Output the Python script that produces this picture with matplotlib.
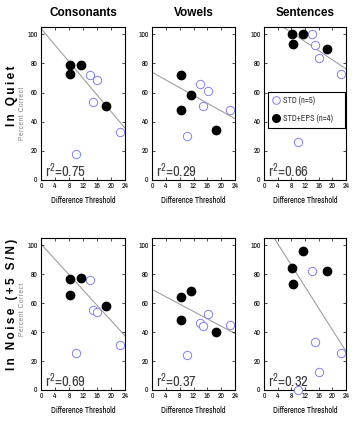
import matplotlib
matplotlib.use("Agg")
import matplotlib.pyplot as plt
from matplotlib.lines import Line2D
from matplotlib.transforms import offset_copy
import numpy as np

# ---- data ----
std_threshold = [10.0, 14.0, 14.8, 16.1, 22.5]
eps_threshold = [8.3, 8.4, 11.3, 18.5]

columns = ["Consonants", "Vowels", "Sentences"]
rows = ["In Quiet", "In Noise (+5 S/N)"]
y_label = "Percent Correct"
x_label = "Difference Threshold"

quiet_cons_std = [17.8, 72.0, 53.8, 68.6, 32.7]
quiet_cons_eps = [78.7, 73.0, 78.7, 51.0]
quiet_vow_std = [30.5, 65.7, 51.0, 61.0, 47.7]
quiet_vow_eps = [72.3, 48.2, 58.0, 34.0]
quiet_sent_std = [26.4, 100.0, 92.4, 83.9, 72.9]
quiet_sent_eps = [100.0, 93.3, 100.0, 89.6]

noise_cons_std = [25.6, 76.2, 55.4, 53.8, 31.4]
noise_cons_eps = [76.7, 65.7, 77.1, 57.9]
noise_vow_std = [24.5, 46.6, 44.1, 52.7, 45.0]
noise_vow_eps = [64.1, 48.4, 68.6, 40.0]
noise_sent_std = [0.0, 82.3, 33.3, 12.6, 25.3]
noise_sent_eps = [84.6, 72.9, 96.1, 82.3]

# regression fits (intercept, slope) and r^2 as printed
quiet_fit_intercept = [104.0, 74.0, 113.7]
quiet_fit_slope = [-2.85, -1.33, -1.56]
quiet_r2 = ["0.75", "0.29", "0.66"]
noise_fit_intercept = [100.8, 69.5, 116.0]
noise_fit_slope = [-2.64, -1.27, -3.72]
noise_r2 = ["0.69", "0.37", "0.32"]

x_ticks = [0, 4, 8, 12, 16, 20, 24]
y_ticks = [0, 20, 40, 60, 80, 100]

std_label = "STD (n=5)"
eps_label = "STD+EPS (n=4)"

# ---- drawing ----
plt.rcParams["mathtext.default"] = "regular"
W, H = 352, 426
fig = plt.figure(figsize=(W / 100, H / 100), dpi=100)
fig.patch.set_facecolor("white")

narrow = ["Archivo Narrow", "Liberation Sans", "DejaVu Sans"]
sans = ["Liberation Sans", "DejaVu Sans"]


def spaced(s, sep="\u2009"):
    return sep.join(s)


col_px = [(41, 125), (152, 235), (264, 346)]
row_px = [(27, 180), (238, 390)]

open_color = "#8080f0"
line_color = "#a0a0a0"

std_sets = [[quiet_cons_std, quiet_vow_std, quiet_sent_std],
            [noise_cons_std, noise_vow_std, noise_sent_std]]
eps_sets = [[quiet_cons_eps, quiet_vow_eps, quiet_sent_eps],
            [noise_cons_eps, noise_vow_eps, noise_sent_eps]]
intercepts = [quiet_fit_intercept, noise_fit_intercept]
slopes = [quiet_fit_slope, noise_fit_slope]
r2s = [quiet_r2, noise_r2]

MS = 6

for r in range(2):
    for c in range(3):
        x0, x1 = col_px[c]
        y0, y1 = row_px[r]
        ax = fig.add_axes([x0 / W, 1 - y1 / H, (x1 - x0) / W, (y1 - y0) / H])
        ax.set_xlim(0, 24)
        ax.set_ylim(0, 105)
        xs = np.linspace(0, 24, 50)
        ax.plot(xs, intercepts[r][c] + slopes[r][c] * xs, color=line_color, lw=0.8, zorder=1)
        ax.plot(std_threshold, std_sets[r][c], linestyle="none", marker="o", ms=MS,
                mfc="white", mec=open_color, mew=0.7, zorder=3, clip_on=False)
        ax.plot(eps_threshold, eps_sets[r][c], linestyle="none", marker="o", ms=MS,
                mfc="black", mec="black", zorder=3, clip_on=False)
        ax.set_xticks(x_ticks)
        ax.set_yticks(y_ticks)
        ax.tick_params(direction="in", length=2, width=0.5, top=True, right=True,
                       labelsize=5.5, pad=2.5)
        for lab in ax.get_xticklabels() + ax.get_yticklabels():
            lab.set_family(narrow)
        for sp in ax.spines.values():
            sp.set_linewidth(0.8)
        ax.set_xlabel(x_label, fontsize=6, family=narrow, labelpad=5)
        tr = offset_copy(ax.transAxes, fig=fig, x=3, y=2.5, units="points")
        ax.text(0.0, 0.0, "r$^{2}$=" + r2s[r][c], transform=tr,
                fontsize=10.5, family=narrow, color="#3a3a3a", ha="left", va="baseline")
        if r == 0:
            ax.set_title(columns[c], fontsize=8.5, fontweight="bold", family=sans, pad=8)
        if r == 0 and c == 2:
            handles = [Line2D([], [], linestyle="none", marker="o", ms=MS - 0.5, mfc="white",
                              mec=open_color, mew=0.7),
                       Line2D([], [], linestyle="none", marker="o", ms=MS - 0.5, mfc="black",
                              mec="black")]
            leg = ax.legend(handles, [std_label, eps_label], loc="lower left",
                            bbox_to_anchor=(0.045, 0.343, 0.945, 0.23), mode="expand",
                            fancybox=False, edgecolor="black", framealpha=1,
                            prop={"family": narrow, "size": 6}, handletextpad=0.3,
                            handlelength=1.0, borderaxespad=0, labelspacing=1.1,
                            borderpad=0.5)
            leg.get_frame().set_linewidth(0.8)
            for t in leg.get_texts():
                t.set_color("#333333")

# row labels
row_centers = [96, 304]
pc_centers = [113, 309]
for r in range(2):
    fig.text(12 / W, 1 - row_centers[r] / H, spaced(rows[r]), rotation=90, ha="center",
             va="center", fontsize=8.5, fontweight="bold", family=sans)
    fig.text(22 / W, 1 - pc_centers[r] / H, spaced(y_label, "\u200a"), rotation=90,
             ha="center", va="center", fontsize=4.8, color="#808080", family=sans)

fig.savefig("out.png", dpi=100)
